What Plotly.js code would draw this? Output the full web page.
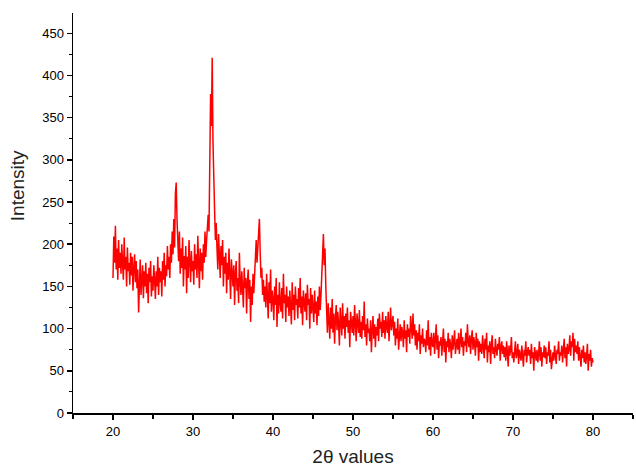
<!DOCTYPE html>
<html>
<head>
<meta charset="utf-8">
<script src="https://cdn.plot.ly/plotly-3.0.1.min.js"></script>
<style>
html,body{margin:0;padding:0;background:#fff;}
#chart{width:636px;height:472px;}
</style>
</head>
<body>
<div id="chart"></div>
<script>
// 2-theta start, step (degrees) and intensity values, 10 per degree
const thetaStart = 20.0;
const thetaStep = 0.1;
const intensity = [
  160, 209, 178, 222, 170, 195, 158, 205, 172, 190,
  165, 200, 175, 158, 208, 170, 185, 150, 196, 168,
  178, 152, 190, 163, 185, 145, 172, 188, 155, 180,
  148, 170, 119, 165, 182, 140, 160, 175, 136, 168,
  150, 178, 142, 165, 130, 172, 155, 180, 138, 162,
  145, 175, 158, 135, 168, 150, 185, 140, 172, 155,
  168, 138, 180, 158, 190, 150, 175, 162, 198, 170,
  185, 160, 200, 178, 215, 188, 230, 196, 260, 273,
  230, 205, 180, 215, 165, 195, 172, 208, 150, 186,
  170, 198, 142, 185, 160, 205, 175, 155, 192, 168,
  180, 152, 200, 170, 188, 160, 210, 175, 148, 195,
  168, 190, 158, 200, 178, 215, 185, 205, 222, 235,
  215, 288, 378, 340, 421, 320, 260, 240, 205, 225,
  195, 170, 212, 180, 160, 198, 175, 205, 150, 185,
  165, 190, 142, 178, 158, 195, 170, 135, 182, 160,
  150, 175, 128, 165, 180, 145, 160, 130, 190, 155,
  140, 168, 150, 125, 172, 148, 160, 118, 155, 170,
  135, 158, 108, 150, 128, 165, 142, 170, 195, 205,
  178, 198, 212, 230, 190, 160, 172, 140, 158, 132,
  150, 125, 165, 138, 112, 155, 130, 170, 120, 145,
  135, 110, 150, 128, 160, 102, 140, 118, 155, 130,
  120, 148, 112, 165, 130, 140, 108, 150, 125, 138,
  115, 145, 130, 105, 155, 122, 140, 110, 150, 128,
  135, 112, 148, 125, 160, 118, 138, 104, 145, 130,
  120, 142, 110, 152, 128, 135, 100, 148, 118, 140,
  125, 108, 145, 118, 132, 104, 138, 115, 150, 122,
  140, 165, 185, 212, 175, 195, 150, 118, 95, 130,
  110, 88, 125, 100, 135, 95, 118, 82, 112, 128,
  98, 120, 105, 80, 125, 110, 92, 130, 100, 115,
  88, 118, 102, 125, 95, 110, 78, 120, 105, 95,
  115, 92, 128, 100, 85, 118, 105, 95, 122, 90,
  108, 88, 115, 98, 132, 90, 105, 80, 112, 95,
  100, 85, 110, 72, 98, 115, 88, 105, 78, 102,
  92, 112, 85, 118, 100, 108, 90, 120, 95, 110,
  88, 115, 102, 95, 120, 85, 105, 125, 98, 110,
  115, 92, 108, 80, 100, 88, 112, 75, 98, 105,
  85, 102, 95, 78, 110, 88, 98, 72, 105, 90,
  100, 82, 115, 95, 88, 118, 92, 105, 80, 98,
  75, 95, 85, 105, 70, 92, 82, 100, 78, 88,
  85, 72, 98, 80, 110, 75, 90, 68, 95, 82,
  78, 95, 70, 88, 105, 75, 92, 65, 85, 80,
  90, 68, 82, 100, 72, 88, 60, 85, 78, 95,
  72, 88, 80, 65, 92, 75, 85, 98, 70, 82,
  88, 75, 95, 70, 82, 100, 78, 90, 68, 85,
  80, 95, 72, 105, 85, 78, 92, 70, 88, 98,
  75, 90, 82, 68, 95, 78, 88, 62, 85, 72,
  82, 70, 92, 78, 65, 88, 75, 95, 60, 80,
  72, 85, 58, 80, 92, 70, 78, 65, 88, 75,
  68, 82, 75, 90, 62, 78, 85, 70, 80, 66,
  78, 62, 85, 72, 55, 80, 68, 75, 90, 65,
  72, 60, 78, 85, 65, 70, 82, 58, 75, 68,
  62, 80, 70, 55, 75, 68, 85, 60, 72, 78,
  68, 75, 58, 82, 65, 72, 50, 78, 70, 62,
  75, 60, 70, 85, 62, 78, 55, 72, 66, 80,
  65, 78, 58, 72, 68, 85, 60, 75, 52, 70,
  72, 62, 80, 68, 58, 75, 70, 85, 62, 72,
  68, 80, 60, 75, 88, 65, 78, 55, 82, 70,
  75, 92, 68, 85, 78, 95, 62, 88, 72, 80,
  70, 85, 62, 78, 68, 55, 75, 65, 80, 60,
  72, 58, 68, 82, 50, 70, 62, 75, 55, 65,
  60
];
const xTitle = "2θ values";
const yTitle = "Intensity";

const theta = intensity.map((_, i) => +(thetaStart + i * thetaStep).toFixed(2));

const fontFam = "Liberation Sans, Arial, sans-serif";
const trace = {
  x: theta, y: intensity, type: "scatter", mode: "lines",
  line: {color: "#ff0000", width: 1.5},
  hoverinfo: "skip"
};

const layout = {
  width: 636, height: 472,
  margin: {l: 73, r: 3, t: 13, b: 59},
  paper_bgcolor: "#fff", plot_bgcolor: "#fff",
  showlegend: false,
  font: {family: fontFam, color: "#000", size: 13},
  xaxis: {
    range: [15, 85], showgrid: false, zeroline: false,
    showline: true, linecolor: "#000", linewidth: 2,
    ticks: "outside", ticklen: 5, tickwidth: 1.5, tickcolor: "#000",
    dtick: 10, tick0: 0,
    minor: {ticks: "outside", ticklen: 4, dtick: 5, tickcolor: "#000", tickwidth: 1.5, showgrid: false},
    tickfont: {family: fontFam, size: 13, color: "#000"},
    title: {text: xTitle, font: {family: fontFam, size: 19, color: "#222"}, standoff: 12}
  },
  yaxis: {
    range: [0, 474], showgrid: false, zeroline: false,
    showline: true, linecolor: "#000", linewidth: 1.5,
    ticks: "outside", ticklen: 5, tickwidth: 1.5, tickcolor: "#000",
    dtick: 50, tick0: 0,
    minor: {ticks: "outside", ticklen: 3, dtick: 25, tickcolor: "#000", tickwidth: 1, showgrid: false},
    tickfont: {family: fontFam, size: 13, color: "#000"},
    title: {text: ""}
  },
  annotations: [{
    text: yTitle, textangle: -90, showarrow: false,
    xref: "paper", yref: "paper", x: -0.1, y: 0.567,
    xanchor: "center", yanchor: "middle",
    font: {family: fontFam, size: 19, color: "#222"}
  }]
};

Plotly.newPlot("chart", [trace], layout, {displayModeBar: false, staticPlot: true});
</script>
</body>
</html>
